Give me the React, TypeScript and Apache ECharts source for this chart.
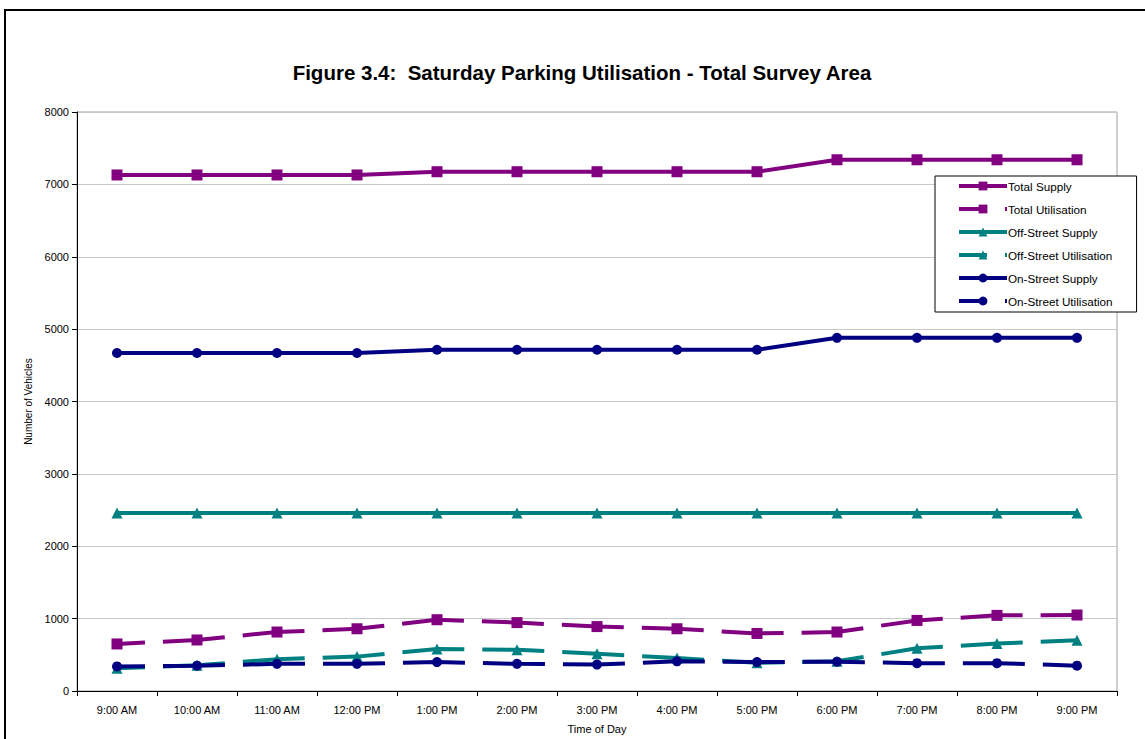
import React, { useEffect, useRef } from "react";
import * as echarts from "echarts";

// Survey times along the x axis
const times = [
  "9:00 AM", "10:00 AM", "11:00 AM", "12:00 PM", "1:00 PM", "2:00 PM", "3:00 PM",
  "4:00 PM", "5:00 PM", "6:00 PM", "7:00 PM", "8:00 PM", "9:00 PM",
];

// Parking supply (spaces) and utilisation (parked vehicles)
const totalSupply = [7130, 7130, 7130, 7130, 7175, 7175, 7175, 7175, 7175, 7340, 7340, 7340, 7340];
const totalUtilisation = [650, 705, 815, 860, 985, 945, 890, 860, 795, 815, 975, 1045, 1050];
const offStreetSupply = [2460, 2460, 2460, 2460, 2460, 2460, 2460, 2460, 2460, 2460, 2460, 2460, 2460];
const offStreetUtilisation = [315, 355, 440, 475, 580, 570, 515, 455, 390, 410, 590, 655, 700];
const onStreetSupply = [4670, 4670, 4670, 4670, 4715, 4715, 4715, 4715, 4715, 4880, 4880, 4880, 4880];
const onStreetUtilisation = [340, 350, 375, 375, 400, 375, 365, 410, 400, 405, 385, 385, 350];

const yTicks = { min: 0, max: 8000, interval: 1000 };

const PURPLE = "#800080";
const TEAL = "#008080";
const NAVY = "#000080";
const FONT = "Arial, 'Liberation Sans', sans-serif";

function lineSeries(
  name: string,
  data: number[],
  color: string,
  symbol: string,
  symbolSize: number,
  dashed: boolean
) {
  return {
    name,
    type: "line",
    data,
    symbol,
    symbolSize,
    showSymbol: true,
    color,
    itemStyle: { color },
    lineStyle: {
      color,
      width: 4,
      type: dashed ? [62, 18] : "solid",
      dashOffset: dashed ? 34 : 0,
      cap: "butt",
    },
    emphasis: { disabled: true },
    z: 3,
  };
}

export default function App() {
  const ref = useRef<HTMLDivElement>(null);

  useEffect(() => {
    if (!ref.current) return;
    const chart = echarts.init(ref.current, undefined, { renderer: "svg" });
    chart.setOption({
      animation: false,
      backgroundColor: "#ffffff",
      textStyle: { fontFamily: FONT },
      grid: {
        left: 77,
        right: 28,
        top: 112,
        bottom: 46,
        show: true,
        borderColor: "#a0a0a0",
        borderWidth: 1,
      },
      xAxis: {
        type: "category",
        data: times,
        boundaryGap: true,
        name: "Time of Day",
        nameLocation: "middle",
        nameGap: 32,
        nameTextStyle: { fontSize: 11, color: "#000", fontFamily: FONT },
        axisLine: { lineStyle: { color: "#000", width: 1 } },
        axisTick: { show: true, alignWithLabel: false, length: 5, lineStyle: { color: "#000" } },
        axisLabel: { fontSize: 11, color: "#000", margin: 13, fontFamily: FONT, interval: 0 },
        splitLine: { show: false },
      },
      yAxis: {
        type: "value",
        min: yTicks.min,
        max: yTicks.max,
        interval: yTicks.interval,
        name: "Number of Vehicles",
        nameLocation: "middle",
        nameRotate: 90,
        nameGap: 38,
        nameTextStyle: { fontSize: 10, color: "#000", fontFamily: FONT },
        axisLine: { show: true, lineStyle: { color: "#000", width: 1 } },
        axisTick: { show: true, length: 5, lineStyle: { color: "#000" } },
        axisLabel: {
          fontSize: 11,
          color: "#000",
          margin: 8,
          fontFamily: FONT,
          formatter: (v: number) => String(v),
        },
        splitLine: { show: true, lineStyle: { color: "#c8c8c8", width: 1 } },
      },
      legend: {
        orient: "vertical",
        left: 935,
        top: 176,
        itemWidth: 48,
        itemHeight: 11,
        itemGap: 11,
        padding: [4, 24, 5, 22],
        backgroundColor: "#ffffff",
        borderColor: "#000",
        borderWidth: 1,
        lineStyle: { width: 4 },
        textStyle: { fontSize: 11.7, color: "#000", fontFamily: FONT, padding: [0, 0, 0, -4] },
        data: [
          "Total Supply",
          "Total Utilisation",
          "Off-Street Supply",
          "Off-Street Utilisation",
          "On-Street Supply",
          "On-Street Utilisation",
        ],
        selectedMode: false,
      },
      graphic: [
        {
          type: "rect",
          silent: true,
          shape: { x: 5, y: 10, width: 1160, height: 760 },
          style: { fill: "none", stroke: "#000", lineWidth: 2 },
          z: 10,
        },
        {
          type: "text",
          silent: true,
          x: 582,
          y: 72,
          style: {
            text: "Figure 3.4:  Saturday Parking Utilisation - Total Survey Area",
            font: `bold 20.5px ${FONT}`,
            fill: "#000",
            textAlign: "center",
            textVerticalAlign: "middle",
          },
        },
      ],
      series: [
        lineSeries("Total Supply", totalSupply, PURPLE, "rect", 11, false),
        lineSeries("Total Utilisation", totalUtilisation, PURPLE, "rect", 11, true),
        lineSeries("Off-Street Supply", offStreetSupply, TEAL, "triangle", 11, false),
        lineSeries("Off-Street Utilisation", offStreetUtilisation, TEAL, "triangle", 11, true),
        lineSeries("On-Street Supply", onStreetSupply, NAVY, "circle", 10, false),
        lineSeries("On-Street Utilisation", onStreetUtilisation, NAVY, "circle", 10, true),
      ],
    });
    return () => chart.dispose();
  }, []);

  return (
    <div
      ref={ref}
      style={{ position: "fixed", left: 0, top: 0, width: 1145, height: 739, background: "#fff" }}
    />
  );
}
